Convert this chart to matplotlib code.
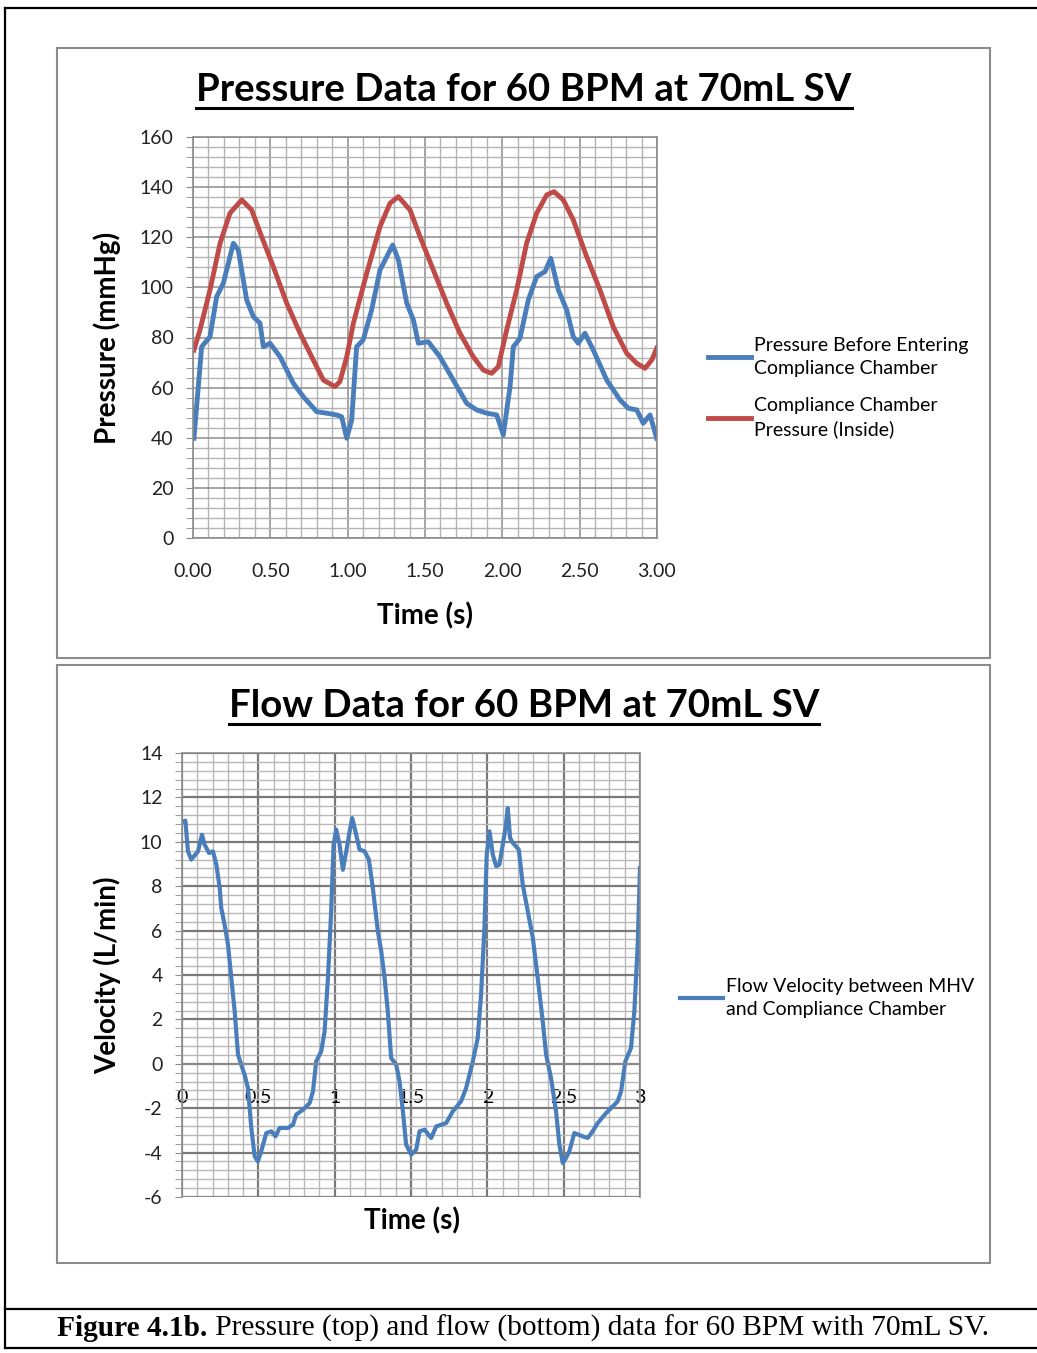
import matplotlib.pyplot as plt
from matplotlib.lines import Line2D
from matplotlib.patches import Rectangle
from matplotlib.ticker import MultipleLocator, FormatStrFormatter

plt.rcParams['font.family'] = ['Lato', 'DejaVu Sans']
plt.rcParams['axes.unicode_minus'] = False

# === data ===
t_before = [0.006, 0.056, 0.11, 0.153, 0.196, 0.261, 0.293, 0.347, 0.39, 0.433, 0.455, 0.498,
            0.563, 0.649, 0.713, 0.80, 0.864, 0.929, 0.961, 0.994, 1.026, 1.058, 1.10, 1.155,
            1.209, 1.291, 1.328, 1.382, 1.425, 1.457, 1.521, 1.597, 1.683, 1.77, 1.834, 1.899,
            1.964, 2.006, 2.05, 2.071, 2.114, 2.168, 2.222, 2.276, 2.313, 2.362, 2.416, 2.459,
            2.491, 2.534, 2.588, 2.675, 2.761, 2.814, 2.869, 2.911, 2.955, 2.998]
p_before = [39.8, 76.3, 80.3, 96.3, 101.6, 117.6, 114.9, 95.0, 88.3, 85.7, 76.3, 77.7,
            72.3, 61.7, 56.4, 50.4, 49.8, 49.1, 48.4, 39.8, 47.1, 76.3, 79.0, 91.0,
            106.9, 116.9, 110.9, 93.7, 87.0, 77.7, 78.3, 72.3, 63.0, 53.7, 51.1, 49.8,
            49.1, 41.1, 60.4, 76.3, 79.7, 95.0, 104.3, 106.3, 111.6, 99.0, 91.0, 80.3,
            77.7, 81.7, 75.0, 63.0, 55.1, 51.8, 51.1, 45.8, 49.1, 39.8]

t_inside = [0.006, 0.045, 0.11, 0.175, 0.239, 0.315, 0.379, 0.444, 0.519, 0.606, 0.692, 0.778,
            0.843, 0.918, 0.95, 0.994, 1.037, 1.123, 1.209, 1.274, 1.328, 1.403, 1.468, 1.554,
            1.64, 1.726, 1.812, 1.877, 1.931, 1.974, 2.028, 2.093, 2.157, 2.222, 2.287, 2.334,
            2.394, 2.459, 2.545, 2.631, 2.717, 2.804, 2.869, 2.922, 2.966, 2.998]
p_inside = [75.0, 83.0, 99.0, 117.6, 129.6, 134.9, 130.9, 120.2, 108.3, 93.7, 81.7, 71.0,
            63.0, 60.4, 62.4, 72.3, 85.7, 105.6, 124.2, 133.6, 136.2, 130.9, 120.2, 106.9,
            93.7, 81.7, 72.3, 67.0, 65.7, 68.4, 83.0, 99.0, 117.6, 129.6, 136.9, 138.2,
            134.9, 126.9, 112.3, 99.0, 84.3, 73.7, 69.7, 67.7, 71.0, 75.7]

t_flow = [0.0065, 0.022, 0.039, 0.061, 0.105, 0.131, 0.148, 0.177, 0.203, 0.225, 0.247, 0.257,
          0.279, 0.301, 0.323, 0.345, 0.367, 0.388, 0.41, 0.432, 0.454, 0.476, 0.497, 0.519,
          0.552, 0.585, 0.613, 0.639, 0.694, 0.727, 0.748, 0.792, 0.836, 0.858, 0.879, 0.912,
          0.934, 0.956, 0.977, 0.993, 1.01, 1.032, 1.054, 1.076, 1.098, 1.115, 1.141, 1.163,
          1.196, 1.224, 1.25, 1.283, 1.305, 1.327, 1.348, 1.37, 1.403, 1.425, 1.447, 1.468,
          1.501, 1.534, 1.556, 1.589, 1.632, 1.665, 1.73, 1.774, 1.828, 1.861, 1.905, 1.937,
          1.959, 1.981, 1.996, 2.014, 2.036, 2.058, 2.079, 2.101, 2.119, 2.134, 2.149, 2.167,
          2.206, 2.232, 2.265, 2.298, 2.33, 2.363, 2.385, 2.417, 2.45, 2.472, 2.494, 2.516,
          2.537, 2.57, 2.625, 2.658, 2.69, 2.723, 2.778, 2.854, 2.876, 2.904, 2.941, 2.963,
          2.985, 3.0]
v_flow = [10.92, 10.95, 9.57, 9.2, 9.57, 10.32, 9.87, 9.5, 9.57, 8.97, 7.92, 7.02,
          6.27, 5.37, 3.87, 2.37, 0.41, -0.04, -0.49, -1.09, -2.89, -4.17, -4.39, -3.94,
          -3.12, -3.04, -3.27, -2.89, -2.89, -2.74, -2.29, -2.07, -1.77, -1.24, 0.11, 0.56,
          1.46, 3.87, 6.87, 9.87, 10.55, 9.87, 8.74, 9.57, 10.47, 11.07, 10.32, 9.65,
          9.57, 9.2, 7.92, 5.97, 5.07, 3.87, 2.37, 0.26, -0.04, -0.79, -2.14, -3.64,
          -4.09, -3.87, -3.04, -2.97, -3.34, -2.82, -2.67, -2.14, -1.69, -1.09, 0.11, 1.16,
          3.11, 6.12, 9.42, 10.47, 9.42, 8.9, 8.97, 9.87, 10.62, 11.52, 10.17, 9.95,
          9.65, 8.07, 6.87, 5.67, 3.87, 1.91, 0.41, -0.64, -2.14, -3.64, -4.47, -4.24,
          -3.94, -3.12, -3.27, -3.34, -3.04, -2.67, -2.22, -1.69, -1.24, 0.11, 0.71, 2.37,
          5.37, 8.82]

BLUE = "#4a7ebb"
RED = "#be4b48"
W, H = 1037, 1353

fig = plt.figure(figsize=(W / 100, H / 100), dpi=100)


def px_rect(x0, y0, x1, y1):
    return [x0 / W, 1 - y1 / H, (x1 - x0) / W, (y1 - y0) / H]


def style_grid(ax, major_c, minor_c, major_lw, minor_lw):
    ax.grid(True, which="major", color=major_c, lw=major_lw)
    ax.grid(True, which="minor", color=minor_c, lw=minor_lw)
    ax.set_axisbelow(True)
    for s in ax.spines.values():
        s.set_color("#8c8c8c")
        s.set_linewidth(1.2)


# chart frames
for box in [(57, 48, 990, 658), (57, 665, 990, 1263)]:
    fig.patches.append(Rectangle((box[0] / W, 1 - box[3] / H), (box[2] - box[0]) / W,
                                 (box[3] - box[1]) / H, transform=fig.transFigure,
                                 fill=False, ec="#8c8c8c", lw=1.5))

# === 1. Pressure ===
ax1 = fig.add_axes(px_rect(193, 137, 657, 538))
ax1.plot(t_before, p_before, color=BLUE, lw=3.5, label="Pressure Before Entering\nCompliance Chamber")
ax1.plot(t_inside, p_inside, color=RED, lw=3.5, label="Compliance Chamber\nPressure (Inside)")
ax1.set_xlim(0, 3)
ax1.set_ylim(0, 160)
ax1.xaxis.set_major_locator(MultipleLocator(0.5))
ax1.xaxis.set_minor_locator(MultipleLocator(0.1))
ax1.yaxis.set_major_locator(MultipleLocator(20))
ax1.yaxis.set_minor_locator(MultipleLocator(4))
ax1.xaxis.set_major_formatter(FormatStrFormatter("%.2f"))
style_grid(ax1, "#8c8c8c", "#b4b4b4", 1.1, 1.0)
ax1.tick_params(axis="x", which="both", length=0, pad=18, labelsize=14, labelcolor="#222222")
ax1.tick_params(axis="y", which="both", length=5, direction="out", color="#8c8c8c",
                pad=9, labelsize=14, labelcolor="#222222")
ax1.set_xlabel("Time (s)", fontsize=20, fontweight="bold")
ax1.xaxis.set_label_coords(0.5, -0.195)
ax1.xaxis.label.set_va("center")
ax1.set_ylabel("Pressure (mmHg)", fontsize=20, fontweight="bold")
ax1.yaxis.set_label_coords(-0.185, 0.5)
ax1.yaxis.label.set_va("center")
leg1 = fig.legend(*ax1.get_legend_handles_labels(), loc="upper left",
                  bbox_to_anchor=(708 / W, 1 - 337 / H), frameon=False, borderpad=0,
                  borderaxespad=0, handlelength=2.2, handletextpad=0.15, labelspacing=1.05,
                  fontsize=14)
for t in leg1.get_texts():
    t.set_linespacing(1.4)

# === 2. Flow ===
ax2 = fig.add_axes(px_rect(182, 753, 640, 1197))
ax2.plot(t_flow, v_flow, color=BLUE, lw=3.0, label="Flow Velocity between MHV\nand Compliance Chamber")
ax2.set_xlim(0, 3)
ax2.set_ylim(-6, 14)
ax2.xaxis.set_major_locator(MultipleLocator(0.5))
ax2.xaxis.set_minor_locator(MultipleLocator(0.1))
ax2.yaxis.set_major_locator(MultipleLocator(2))
ax2.yaxis.set_minor_locator(MultipleLocator(0.4))
ax2.xaxis.set_major_formatter(FormatStrFormatter("%g"))
style_grid(ax2, "#7a7a7a", "#b8b8b8", 1.6, 1.0)
ax2.spines["bottom"].set_position(("data", 0))
ax2.axhline(-6, color="#8c8c8c", lw=1.2)
ax2.tick_params(axis="x", which="both", length=0, pad=18, labelsize=14, labelcolor="black")
ax2.tick_params(axis="y", which="both", length=5, direction="out", color="#8c8c8c",
                pad=9, labelsize=14, labelcolor="#222222")
ax2.set_xlabel("Time (s)", fontsize=20, fontweight="bold")
ax2.xaxis.set_label_coords(0.502, -0.054)
ax2.xaxis.label.set_va("center")
ax2.set_ylabel("Velocity (L/min)", fontsize=20, fontweight="bold")
ax2.yaxis.set_label_coords(-0.164, 0.5)
ax2.yaxis.label.set_va("center")
leg2 = fig.legend(*ax2.get_legend_handles_labels(), loc="upper left",
                  bbox_to_anchor=(680 / W, 1 - 978 / H), frameon=False, borderpad=0,
                  borderaxespad=0, handlelength=2.2, handletextpad=0.15, fontsize=14)
for t in leg2.get_texts():
    t.set_linespacing(1.4)

# titles with underline
titles = [("Pressure Data for 60 BPM at 70mL SV", 90), ("Flow Data for 60 BPM at 70mL SV", 706)]
title_objs = []
for txt, y in titles:
    title_objs.append(fig.text(524 / W, 1 - y / H, txt, ha="center", va="center",
                               fontsize=27.6, fontweight="bold"))

# caption
cap_bold = fig.text(0, 1 - 1328 / H, "Figure 4.1b.", fontsize=21.2, fontweight="bold",
                    family="Liberation Serif", va="center")
cap_rest = fig.text(0, 1 - 1328 / H, " Pressure (top) and flow (bottom) data for 60 BPM with 70mL SV.",
                    fontsize=21.2, family="Liberation Serif", va="center")

renderer = fig.canvas.get_renderer()
for t in title_objs:
    bb = t.get_window_extent(renderer)
    y_line = bb.y0 - 1
    fig.lines.append(Line2D([bb.x0 / W, bb.x1 / W], [y_line / H, y_line / H],
                            transform=fig.transFigure, color="black", lw=2.2))

wb = cap_bold.get_window_extent(renderer).width
wr = cap_rest.get_window_extent(renderer).width
x0 = 523 - (wb + wr) / 2
cap_bold.set_x(x0 / W)
cap_rest.set_x((x0 + wb) / W)

# page border lines
fig.lines.append(Line2D([5 / W, 5 / W], [1 - 8 / H, 1 - 1348 / H], transform=fig.transFigure, color="black", lw=1.6))
for y in [8, 1309, 1348]:
    fig.lines.append(Line2D([5 / W, 1], [1 - y / H, 1 - y / H], transform=fig.transFigure, color="black", lw=1.6))

plt.savefig("out.png", dpi=100)
plt.close()
